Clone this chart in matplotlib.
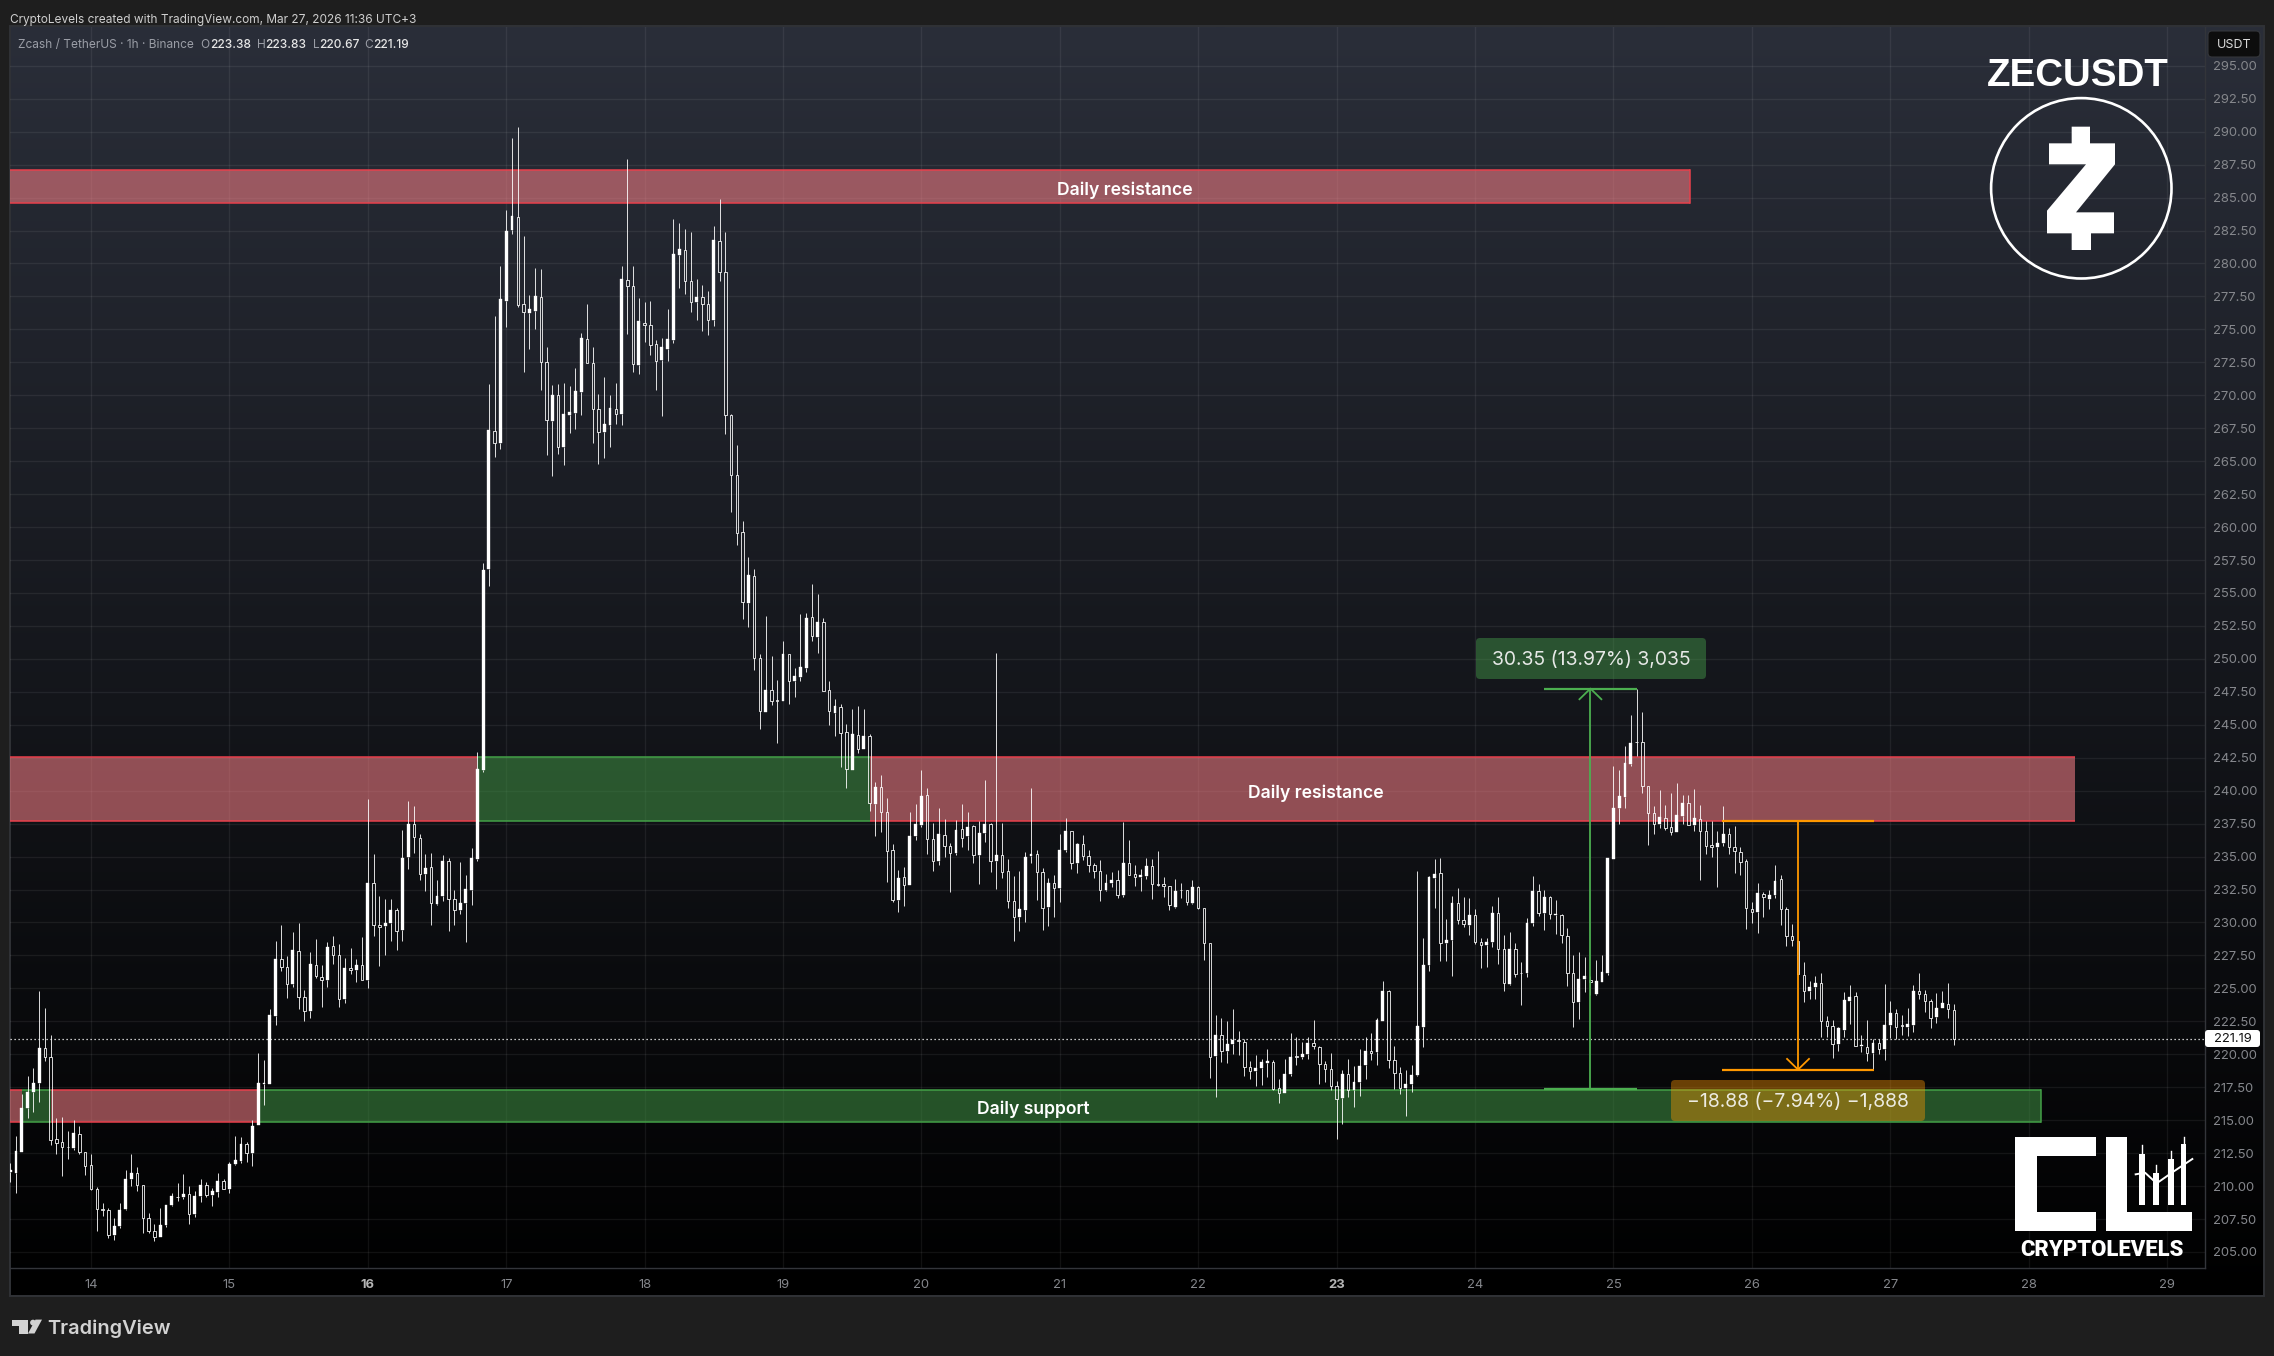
import numpy as np
import matplotlib
matplotlib.use("Agg")
import matplotlib.pyplot as plt
from matplotlib.patches import Polygon, FancyBboxPatch, Circle, Rectangle

# ---- candles, (open, high, low, close) per hour; 13th starts at 10:00 ----
day_13 = [(211.04,211.75,210.29,211.2),(210.97,213.83,209.45,212.69),(212.61,217.01,212.56,215.95),(215.9,218.38,215.14,217.16),(217.11,218.99,215.6,217.85),(217.8,224.83,216.36,220.5),(220.5,223.54,219.47,219.77),(219.79,221.49,213.09,213.47),(213.57,215.19,212.41,213.27),(213.35,215.27,210.74,212.97),(213.0,214.2,212.03,212.95),(212.92,215.04,212.76,214.03),(213.95,214.58,212.41,212.56),(212.56,212.59,210.82,211.52)]
day_14 = [(211.6,212.46,209.68,209.75),(209.78,209.93,206.57,208.26),(208.27,208.72,207.71,208.22),(208.19,208.34,206.04,206.29),(206.29,207.6,205.89,206.97),(206.95,208.72,206.8,208.19),(208.26,211.25,208.21,210.54),(210.51,212.46,209.98,210.99),(210.99,211.47,209.6,210.08),(210.08,210.08,206.42,207.58),(207.58,207.96,206.42,206.59),(206.59,207.15,205.81,206.14),(206.11,208.36,206.11,207.05),(207.02,208.59,206.87,208.57),(208.54,209.48,208.46,209.27),(209.2,210.26,208.84,209.15),(209.15,210.94,209.0,209.4),(209.4,210.03,207.1,207.88),(207.86,209.65,207.63,209.27),(209.22,210.56,208.77,210.08),(210.08,210.34,209.17,209.3),(209.3,209.88,208.46,209.65),(209.53,211.02,209.15,210.39),(210.39,210.56,209.75,209.75)]
day_15 = [(209.75,211.85,209.45,211.68),(211.65,213.83,211.63,212.0),(211.93,213.75,211.73,213.19),(213.19,213.37,211.8,212.49),(212.49,215.04,211.5,214.58),(214.61,220.12,214.61,217.85),(217.72,219.59,216.13,217.85),(217.75,223.46,217.75,223.0),(222.93,228.62,222.2,227.26),(227.23,229.83,226.29,226.6),(226.62,227.48,224.25,225.33),(225.31,229.3,225.08,227.94),(227.84,229.99,223.41,224.32),(224.35,224.9,222.5,223.26),(223.26,227.79,222.73,226.88),(226.77,228.77,225.81,225.91),(225.86,226.8,223.56,225.64),(225.61,228.52,225.08,228.17),(228.22,229.0,226.82,227.51),(227.53,228.39,223.56,224.17),(224.17,227.33,223.87,226.57),(226.55,228.09,226.07,226.37),(226.37,227.26,225.46,226.77),(226.77,228.92,225.61,225.61)]
day_16 = [(225.61,239.39,225.0,233.02),(233.0,235.22,229.0,229.81),(229.81,232.03,226.67,229.63),(229.71,231.81,227.51,229.96),(229.94,231.81,228.57,230.97),(230.95,231.12,227.89,229.33),(229.41,237.04,228.57,234.92),(234.95,239.24,234.03,237.47),(237.47,238.86,235.25,236.46),(236.41,236.74,233.2,233.65),(233.65,235.22,232.36,234.13),(234.21,235.3,229.78,231.45),(231.38,233.25,231.3,232.01),(231.98,235.15,231.6,234.66),(234.66,234.92,229.33,231.78),(231.78,232.49,229.78,230.95),(230.92,234.61,230.62,231.48),(231.45,233.63,228.49,232.54),(232.44,235.68,231.3,234.89),(234.82,242.94,234.7,241.65),(241.57,257.28,241.4,256.75),(256.82,270.83,255.53,267.34),(267.32,275.99,265.29,266.41),(266.41,279.78,265.9,277.28)]
day_17 = [(277.15,284.03,275.16,282.44),(282.52,289.5,282.21,283.58),(283.55,290.33,276.67,276.88),(276.95,282.06,271.74,276.32),(276.22,277.58,273.49,276.52),(276.37,279.63,275.0,277.51),(277.48,279.56,270.38,272.55),(272.55,273.64,265.44,268.13),(268.02,270.76,263.85,270.0),(270.05,270.83,265.52,266.08),(266.05,270.91,264.69,268.56),(268.48,270.68,267.11,268.71),(268.63,272.05,267.42,270.3),(270.22,274.7,268.48,274.32),(274.3,276.9,272.42,272.45),(272.47,273.64,266.36,268.99),(268.99,270.07,264.76,267.22),(267.19,271.36,265.22,267.8),(267.72,270.0,266.05,269.01),(268.99,270.91,267.8,268.58),(268.56,279.78,267.72,278.8),(278.77,287.9,274.62,278.32),(278.32,279.78,271.74,272.37),(272.27,277.36,271.59,275.61)]
day_18 = [(275.51,277.05,274.02,275.33),(275.36,277.13,273.03,273.82),(273.92,274.17,270.38,272.6),(272.65,274.32,268.4,273.64),(273.49,276.52,272.58,274.25),(274.2,283.35,273.94,280.69),(280.62,283.05,278.12,281.07),(281.05,282.59,277.66,278.67),(278.7,282.36,276.29,277.08),(277.05,278.8,275.69,277.43),(277.48,278.34,274.85,276.93),(276.95,277.89,274.55,275.71),(275.71,282.82,275.23,281.76),(281.73,284.87,278.65,279.35),(279.38,282.36,267.04,268.53),(268.53,268.6,261.12,263.98),(263.98,266.2,258.62,259.55),(259.61,260.47,253.04,254.28),(254.25,257.74,252.43,256.38),(256.28,256.83,249.17,250.1),(250.05,250.38,244.69,246.01),(245.98,253.27,245.98,247.65),(247.63,250.23,246.51,246.79),(246.89,248.41,243.63,246.84)]
day_19 = [(246.82,251.37,246.82,250.38),(250.36,250.38,246.59,248.36),(248.33,249.32,247.12,248.71),(248.64,253.42,248.33,249.4),(249.32,253.49,249.02,253.11),(253.19,255.69,251.37,251.7),(251.67,254.93,250.46,252.81),(252.78,253.11,247.6,247.6),(247.63,248.33,245.0,246.01),(245.91,246.97,244.16,246.44),(246.34,246.59,241.81,244.41),(244.44,245.07,240.22,241.61),(241.58,246.21,241.58,244.31),(244.21,246.44,242.87,243.2),(243.17,246.21,243.17,244.16),(244.13,244.31,238.47,239.03),(239.0,240.67,236.57,240.29),(240.27,241.2,236.88,238.42),(238.37,239.46,233.08,235.46),(235.49,235.97,231.58,231.67),(231.73,233.98,230.77,233.38),(233.44,234.22,231.28,232.87),(232.87,238.39,232.87,236.56),(236.53,238.99,236.29,237.49)]
day_20 = [(237.37,241.57,237.28,239.62),(239.65,240.19,235.18,236.32),(236.32,237.58,233.92,234.64),(234.64,238.69,234.37,236.74),(236.62,237.88,234.97,235.84),(235.84,236.02,232.3,235.24),(235.24,237.79,235.09,237.01),(237.07,239.02,235.72,236.38),(236.53,238.39,235.48,237.22),(237.31,237.43,234.49,235.09),(235.09,237.73,232.9,236.77),(236.77,240.82,236.14,237.49),(237.49,237.58,233.83,234.7),(234.7,250.48,232.57,235.12),(235.12,237.58,233.38,233.8),(233.92,234.79,231.13,231.61),(231.61,233.53,228.58,230.38),(230.38,233.92,229.33,231.04),(230.92,235.33,230.02,234.97),(235.03,240.22,234.49,235.18),(235.18,235.48,231.73,233.8),(233.8,234.13,229.4,231.1),(231.15,233.4,229.71,233.0),(233.0,233.63,230.39,232.59)]
day_21 = [(232.59,236.74,231.53,235.52),(235.47,237.95,235.32,236.97),(236.94,236.97,234.08,234.51),(234.49,236.06,233.73,235.98),(235.96,236.66,234.72,235.02),(235.05,235.52,233.86,234.34),(234.36,234.54,233.35,233.88),(233.91,234.77,231.6,232.47),(232.44,233.7,232.41,233.02),(232.97,233.86,232.67,233.22),(233.22,234.0,231.83,232.06),(232.06,237.65,231.91,234.54),(234.51,236.28,233.58,233.63),(233.68,234.39,232.74,233.45),(233.43,234.06,232.36,233.6),(233.55,234.92,233.27,234.29),(234.29,234.84,231.76,232.89),(232.92,235.45,232.74,232.87),(232.92,233.48,231.91,232.74),(232.77,232.79,230.92,231.33),(231.2,233.33,231.07,232.39),(232.49,233.02,231.83,232.44),(232.47,232.47,231.3,231.53),(231.5,233.25,231.38,232.69)]
day_22 = [(232.69,232.77,231.0,231.13),(231.1,231.1,227.18,228.44),(228.44,228.44,218.18,219.79),(219.84,223.0,216.73,221.46),(221.46,222.78,219.44,220.22),(220.28,222.55,219.31,220.78),(220.76,223.46,220.0,221.08),(221.11,221.79,219.92,220.98),(220.93,221.16,218.38,219.01),(219.01,219.47,218.15,218.71),(218.71,219.97,217.62,218.96),(218.93,219.67,217.69,219.42),(219.31,220.43,218.25,219.52),(219.42,219.59,217.27,217.37),(217.44,218.15,216.28,217.04),(217.04,219.67,217.04,218.53),(218.48,221.64,218.33,219.82),(219.84,221.34,219.21,219.77),(219.77,220.96,219.62,220.05),(220.0,221.34,219.62,220.86),(220.86,222.63,220.4,220.6),(220.55,220.6,217.77,219.24),(219.26,219.52,217.9,218.88),(218.88,220.12,217.32,217.57)]
day_23 = [(217.59,218.0,213.6,216.58),(216.66,218.83,214.69,218.53),(218.51,219.67,216.73,217.32),(217.32,219.14,215.98,217.9),(217.87,220.43,216.86,219.11),(219.16,221.34,218.15,220.25),(220.25,221.64,219.54,220.1),(220.15,222.78,219.16,222.63),(222.55,225.59,222.55,224.8),(224.8,224.9,218.99,219.57),(219.57,220.65,217.39,218.58),(218.58,219.06,216.96,217.42),(217.42,218.83,215.29,217.77),(217.72,219.21,217.11,218.46),(218.4,233.93,218.33,222.15),(222.05,228.85,220.58,226.77),(226.77,233.55,226.29,233.48),(233.4,234.84,231.07,233.7),(233.75,234.92,227.05,228.44),(228.42,230.29,227.05,228.67),(228.65,232.03,225.91,231.48),(231.48,232.64,229.86,230.16),(230.19,231.96,229.63,229.86),(229.78,231.88,229.03,230.59)]
day_24 = [(230.57,231.05,228.34,228.49),(228.52,228.85,226.52,228.27),(228.27,228.85,226.6,228.52),(228.49,231.28,228.11,230.72),(230.72,231.96,226.83,227.96),(227.99,229.08,224.78,225.41),(225.36,229.3,225.23,227.99),(227.99,228.47,225.84,226.07),(226.19,227.03,223.71,226.14),(226.14,230.37,225.84,229.96),(229.94,233.55,229.71,232.39),(232.39,232.95,230.47,230.69),(230.69,232.49,229.4,231.93),(231.93,232.03,230.24,230.64),(230.54,231.73,229.1,230.64),(230.57,230.67,228.42,229.03),(228.97,229.6,225.16,226.14),(226.17,227.56,222.05,223.97),(223.94,227.79,222.65,225.71),(225.69,227.41,224.7,225.97),(225.66,225.92,224.47,225.51),(224.55,227.18,224.52,225.59),(225.51,227.56,225.51,226.27),(226.19,234.92,226.04,234.89)]
day_25 = [(234.84,241.91,234.84,238.71),(238.71,241.56,237.49,239.58),(239.53,243.37,238.71,242.1),(242.05,245.73,241.88,243.64),(243.73,247.71,242.64,243.67),(243.73,245.95,239.85,240.39),(240.37,240.39,235.87,238.28),(238.33,238.85,236.68,237.49),(237.49,240.04,237.14,237.98),(237.95,238.9,237.03,237.17),(237.22,239.82,236.63,236.9),(236.87,240.56,236.87,238.14),(238.09,239.69,237.49,239.09),(239.09,239.69,237.36,237.41),(237.41,240.12,236.95,237.9),(237.87,238.9,233.24,236.95),(236.98,237.68,235.19,235.81),(235.87,237.68,234.97,235.76),(235.73,236.95,232.67,236.03),(236.03,238.85,235.79,236.71),(236.68,237.17,235.19,235.73),(235.76,237.3,233.75,235.46),(235.38,235.73,233.64,234.62),(234.65,234.78,229.5,231.07)]
day_26 = [(231.04,231.59,229.99,230.83),(230.83,233.02,229.23,232.21),(232.13,232.29,230.39,231.91),(231.8,232.43,231.04,232.05),(232.07,234.4,231.88,233.18),(233.27,233.64,229.82,230.99),(230.99,231.18,228.22,228.98),(228.98,229.91,228.22,228.71),(228.63,228.63,226.11,226.11),(226.03,226.98,224.0,224.84),(224.84,225.57,224.16,225.11),(225.11,225.92,224.21,225.43),(225.41,226.19,221.31,222.56),(222.53,222.94,221.31,222.18),(222.18,222.64,219.74,220.8),(220.8,222.1,220.23,221.96),(221.88,224.76,221.29,224.12),(224.05,225.24,222.32,224.38),(224.46,224.76,220.64,220.66),(220.64,221.45,220.15,220.69),(220.58,222.59,219.47,220.07),(220.07,221.18,218.85,220.83),(220.88,221.18,220.02,220.42),(220.42,225.3,219.55,222.24)]
day_27 = [(222.24,224.03,221.24,223.14),(223.11,223.41,221.18,222.1),(222.21,223.0,221.45,222.16),(222.1,223.49,221.38,222.27),(222.24,225.24,221.7,224.84),(224.84,226.19,224.16,224.57),(224.54,224.89,223.18,224.05),(224.05,224.21,221.99,222.78),(222.83,224.62,222.37,223.54),(223.51,224.84,223.49,223.86),(223.78,225.38,222.72,223.4),(223.38,223.83,220.67,221.19)]

day_lists = [day_13, day_14, day_15, day_16, day_17, day_18, day_19, day_20,
             day_21, day_22, day_23, day_24, day_25, day_26, day_27]
first_day, first_hour = 13, 10

# zones: (start hour, end hour, low price, high price, kind); hour 0 = 14th 00:00
resistance_top = [(-15, 277.3, 284.56, 287.1, "red")]
resistance_mid = [(-15, 67, 237.68, 242.53, "red"), (67, 135, 237.68, 242.53, "green"),
                  (135, 344.1, 237.68, 242.53, "red")]
support_low = [(-15, -12, 214.84, 217.3, "red"), (-12, -7, 214.84, 217.3, "green"),
               (-7, 29, 214.84, 217.3, "red"), (29, 338.2, 214.84, 217.3, "green")]
zone_labels = [("Daily resistance", 179.3, 285.83), ("Daily resistance", 212.3, 240.1),
               ("Daily support", 163.4, 216.07)]

last_price = 221.19
price_ticks = np.arange(205, 295.1, 2.5)
day_ticks = list(range(14, 30))
bold_days = [16, 23]

up_measure = dict(low=217.4, high=247.75, hour=260, h0=251.9, h1=268.1, label="30.35 (13.97%) 3,035")
down_measure = dict(low=218.84, high=237.72, hour=296, h0=282.9, h1=309.1, label="\u221218.88 (\u22127.94%) \u22121,888")

W, H = 2274, 1356
L, R, T, B = 10, 2205, 27, 1268
px_per_hour = 5.767
px_per_price = 13.18
x_of = lambda px: (px - 91.0) / px_per_hour
y_of = lambda py: 205 + (1252.0 - py) / px_per_price

plt.rcParams["font.family"] = ["Inter", "DejaVu Sans"]
fs = lambda px: px * 0.72

fig = plt.figure(figsize=(W / 100, H / 100), dpi=100, facecolor="#1e1e1e")

# panel background
bg = fig.add_axes([0, 0, 1, 1], zorder=0)
bg.set_xlim(0, W); bg.set_ylim(H, 0); bg.axis("off")
top_c = np.array([42, 46, 57]) / 255
grad = np.linspace(0, 1, 512)[:, None, None] * (0 - top_c) + top_c
bg.imshow(grad, extent=(L, 2264, 1295, T), aspect="auto", zorder=0, interpolation="bilinear")
bg.set_xlim(0, W); bg.set_ylim(H, 0)
bg.add_patch(Rectangle((L, T - 1), 2264 - L, 1295 - T + 2, fill=False, ec="#303236", lw=1.4, zorder=1))

# main chart
ax = fig.add_axes([L / W, 1 - B / H, (R - L) / W, (B - T) / H], zorder=1)
ax.patch.set_alpha(0)
ax.set_xlim(x_of(L), x_of(R))
ax.set_ylim(y_of(B), y_of(T))
ax.yaxis.tick_right()
ax.set_yticks(price_ticks)
ax.set_yticklabels([f"{v:.2f}" for v in price_ticks])
ax.set_xticks([(d - 14) * 24 for d in day_ticks])
ax.set_xticklabels([str(d) for d in day_ticks])
ax.tick_params(axis="y", length=0, pad=5.5, labelsize=fs(13), labelcolor="#85878c")
ax.tick_params(axis="x", length=0, pad=8, labelsize=fs(13), labelcolor="#85878c")
for lab, d in zip(ax.get_xticklabels(), day_ticks):
    if d in bold_days:
        lab.set_fontweight("bold"); lab.set_color("#b5b5b5")
ax.grid(True, color="white", alpha=0.065, lw=1.0)
ax.set_axisbelow(True)
for side in ("top", "left"):
    ax.spines[side].set_visible(False)
for side in ("right", "bottom"):
    ax.spines[side].set_color("#33353a"); ax.spines[side].set_linewidth(1.0)

ZONE = {"red": ((247/255, 127/255, 134/255, .56), "#e8404c"),
        "green": ((63/255, 143/255, 66/255, .56), "#43a047")}
for zone in (resistance_top, resistance_mid, support_low):
    for h0, h1, lo, hi, kind in zone:
        face, edge = ZONE[kind]
        ax.fill_between([h0, h1], lo, hi, color=face, lw=0, zorder=2)
        ax.plot([h0, h1], [lo, lo], color=edge, lw=1.1, zorder=2.2, solid_capstyle="butt")
        ax.plot([h0, h1], [hi, hi], color=edge, lw=1.1, zorder=2.2, solid_capstyle="butt")
    if zone[-1][1] < 340:
        h0, h1, lo, hi, kind = zone[-1]
        ax.plot([h1, h1], [lo, hi], color=ZONE[kind][1], lw=1.1, zorder=2.2)

# labels sit about 3.5 px above their centre with this font, hence the small price shift
label_shift = 3.5 / px_per_price
for text, hx, py in zone_labels:
    ax.text(hx, py - label_shift, text, color="white", ha="center", va="center", fontsize=fs(17.6),
            fontweight="semibold", zorder=6)

# candles
t, o, h, l, c = [], [], [], [], []
hour = (first_day - 14) * 24 + first_hour
for day in day_lists:
    for co, ch, cl, cc in day:
        t.append(hour); o.append(co); h.append(ch); l.append(cl); c.append(cc)
        hour += 1
t, o, h, l, c = map(np.array, (t, o, h, l, c))
top = np.maximum(o, c); bot = np.minimum(o, c)
ax.vlines(t, top, h, color="white", lw=0.6, zorder=3)
ax.vlines(t, l, bot, color="white", lw=0.6, zorder=3)
rising = c >= o
ax.bar(t[rising], (top - bot)[rising], bottom=bot[rising], width=0.5, color="white",
       edgecolor="white", lw=0.25, zorder=4)
ax.bar(t[~rising], (top - bot)[~rising], bottom=bot[~rising], width=0.42, facecolor="none",
       edgecolor="white", lw=0.58, zorder=4)

# last price line
ax.axhline(last_price, color="white", lw=0.9, ls=(0, (1, 2.2)), zorder=5)

# measure tools
def measure(m, color, up):
    lw = 1.3
    ax.plot([m["hour"], m["hour"]], [m["low"], m["high"]], color=color, lw=lw, zorder=7)
    ax.plot([m["h0"], m["h1"]], [m["low"], m["low"]], color=color, lw=lw + .3, zorder=7, solid_capstyle="butt")
    ax.plot([m["h0"], m["h1"]], [m["high"], m["high"]], color=color, lw=lw + .3, zorder=7, solid_capstyle="butt")
    tip = m["high"] if up else m["low"]
    s = -1 if up else 1
    ax.plot([m["hour"] - 1.9, m["hour"], m["hour"] + 1.9], [tip + s * .81, tip, tip + s * .81],
            color=color, lw=lw, zorder=7)
measure(up_measure, "#4caf50", True)
measure(down_measure, "#ff9800", False)

# overlay in pixel space for labels and logos
ov = fig.add_axes([0, 0, 1, 1], zorder=5)
ov.patch.set_alpha(0); ov.set_xlim(0, W); ov.set_ylim(H, 0); ov.axis("off")

def box(x0, y0, x1, y1, face, edge="none", r=4, z=3, lw=0.8):
    ov.add_patch(FancyBboxPatch((x0 + r, y0 + r), x1 - x0 - 2 * r, y1 - y0 - 2 * r,
                                boxstyle=f"round,pad={r},rounding_size={r}", fc=face, ec=edge, lw=lw, zorder=z))

box(1476, 638, 1706, 679, (76/255, 175/255, 80/255, .4))
ov.text(1591, 660.5, up_measure["label"], color="#e6e8e6", fontsize=fs(19.4), ha="center", va="center", zorder=5)
box(1671, 1080, 1925, 1121, (255/255, 152/255, 0, .4))
ov.text(1798, 1102.5, down_measure["label"], color="#ecebe0", fontsize=fs(19.4), ha="center", va="center", zorder=5)

# price axis badges
box(2208, 31, 2260, 57, "#0d0d0d", "#34363a")
ov.text(2234, 45, "USDT", color="#dcdcdc", fontsize=fs(12.5), ha="center", va="center", zorder=5)
box(2205, 1030, 2260, 1047, "white", r=3)
ov.text(2233, 1039.5, f"{last_price:.2f}", color="#111111", fontsize=fs(13), ha="center", va="center", zorder=5)

# header and legend
ov.text(10, 19.5, "CryptoLevels created with TradingView.com, Mar 27, 2026 11:36 UTC+3",
        color="#cfcfcf", fontsize=fs(11.85), ha="left", va="center")
ov.text(18, 45, "Zcash / TetherUS \u00b7 1h \u00b7 Binance", color="#9a9da6", fontsize=fs(11.9), ha="left", va="center")
for lx, vx, letter, val in [(200.5, 210, "O", "223.38"), (256.5, 265.5, "H", "223.83"),
                            (312.5, 319, "L", "220.67"), (364.5, 373.5, "C", "221.19")]:
    ov.text(lx, 45, letter, color="#9a9da6", fontsize=fs(11.9), ha="left", va="center")
    ov.text(vx, 45, val, color="#e6e6e6", fontsize=fs(11.9), fontweight="medium", ha="left", va="center")

# ZEC logo
ov.text(2078, 76, "ZECUSDT", color="white", family="Liberation Sans", fontweight="bold",
        fontsize=fs(38.5), ha="center", va="center", zorder=5)
ov.add_patch(Circle((2081.3, 188.3), 90.2, fill=False, ec="white", lw=1.9, zorder=5))
z_pts = [(515,380),(570,380),(570,430),(645,430),(645,493),(528,637),(642,637),(642,700),(573,700),
         (573,750),(515,750),(515,700),(441,700),(441,632),(558,493),(447,493),(447,430),(515,430)]
ov.add_patch(Polygon([(1900 + a / 3, b / 3) for a, b in z_pts], fc="white", ec="none", zorder=5))

# CL logo
def logo(pts, **kw):
    ov.add_patch(Polygon([(1900 + a / 3, 1000 + b / 3) for a, b in pts], fc="white", ec="none", zorder=5, **kw))
logo([(345,411),(588,411),(588,468),(410,468),(410,636),(588,636),(588,694),(345,694)])
logo([(618,411),(682,411),(682,636),(876,636),(876,694),(618,694)])
for x0, x1, y0, wick in [(718,735,462,435),(759,776,520,495),(804,821,478,453),(843,859,432,411)]:
    logo([(x0,y0),(x1,y0),(x1,614),(x0,614)])
    mid = (x0 + x1) / 2
    ov.plot([1900 + mid / 3, 1900 + mid / 3], [1000 + wick / 3, 1000 + y0 / 3], color="white", lw=1.0, zorder=5)
ov.plot([1900 + a / 3 for a in (707,735,770,820,877)], [1000 + b / 3 for b in (523,518,550,515,477)],
        color="white", lw=1.4, zorder=5)
ov.text(2102, 1249.5, "CRYPTOLEVELS", color="white", family="Roboto", fontweight="black", fontsize=fs(22),
        ha="center", va="center", zorder=5)

# TradingView mark
tvc = "#d2d2d2"
ov.add_patch(Polygon([(12,1319.6),(28,1319.6),(28,1333.5),(19,1333.5),(19,1326),(12,1326)], fc=tvc, ec="none"))
ov.add_patch(Circle((33,1322.6), 2.9, fc=tvc, ec="none"))
ov.add_patch(Polygon([(35.5,1319.6),(42,1319.6),(34.5,1333.5),(28,1333.5)], fc=tvc, ec="none"))
ov.text(47.5, 1328.5, "TradingView", color=tvc, fontsize=fs(20), fontweight="semibold", ha="left", va="center")

fig.savefig("out.png", dpi=100, facecolor=fig.get_facecolor())
